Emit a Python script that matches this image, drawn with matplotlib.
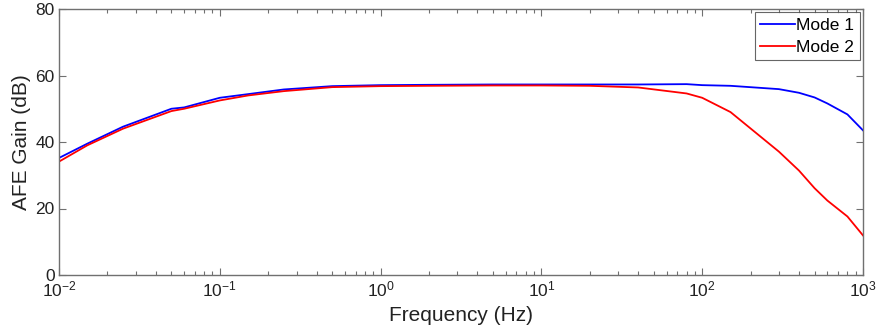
import matplotlib
matplotlib.use("Agg")
import matplotlib.pyplot as plt
from matplotlib.ticker import LogLocator, NullLocator

plt.rcParams['font.family'] = ['Liberation Sans', 'DejaVu Sans']
plt.rcParams['mathtext.fontset'] = 'custom'
plt.rcParams['mathtext.rm'] = 'Liberation Sans'
plt.rcParams['mathtext.it'] = 'Liberation Sans'
plt.rcParams['mathtext.default'] = 'regular'

freq = [0.01, 0.015, 0.025, 0.05, 0.06, 0.1, 0.15, 0.25, 0.5, 1, 2, 5, 10,
        20, 40, 80, 100, 150, 300, 400, 500, 600, 800, 1000]
mode1 = [35.2, 39.5, 44.6, 50.0, 50.4, 53.3, 54.4, 55.8, 56.8, 57.1, 57.2, 57.3,
         57.3, 57.3, 57.3, 57.4, 57.1, 56.9, 55.9, 54.8, 53.4, 51.6, 48.3, 43.5]
mode2 = [34.1, 39.0, 44.0, 49.3, 50.0, 52.5, 54.0, 55.3, 56.5, 56.8, 56.9, 57.0,
         57.0, 56.9, 56.4, 54.6, 53.3, 49.0, 37.1, 31.4, 26.1, 22.4, 17.6, 11.9]
labels = ["Mode 1", "Mode 2"]
xtick_vals = [0.01, 0.1, 1, 10, 100, 1000]
xtick_labels = [r"$10^{-2}$", r"$10^{-1}$", r"$10^{0}$", r"$10^{1}$", r"$10^{2}$", r"$10^{3}$"]
ytick_vals = [0, 20, 40, 60, 80]

fig = plt.figure(figsize=(8.76, 3.26), dpi=100)
ax = fig.add_axes([59/876, 1-275/326, 804/876, 266/326])

ax.plot(freq, mode1, color=(0, 0, 1), lw=1.3, label=labels[0])
ax.plot(freq, mode2, color=(1, 0, 0), lw=1.3, label=labels[1])

ax.set_xscale('log')
ax.set_xlim(0.01, 1000)
ax.set_ylim(0, 80)
ax.set_xticks(xtick_vals)
ax.set_xticklabels(xtick_labels)
ax.xaxis.set_minor_locator(LogLocator(base=10, subs=range(2, 10), numticks=20))
ax.set_yticks(ytick_vals)
ax.yaxis.set_minor_locator(NullLocator())

gray = '#707070'
for s in ax.spines.values():
    s.set_color(gray)
    s.set_linewidth(1.0)
ax.tick_params(which='both', direction='in', top=True, right=True, color=gray,
               labelsize=12.5, labelcolor='#222222')
ax.tick_params(which='major', length=5, width=0.8, pad=3)
ax.tick_params(which='minor', length=3, width=0.8)

ax.set_xlabel("Frequency (Hz)", fontsize=15, color='#222222', labelpad=5)
ax.set_ylabel("AFE Gain (dB)", fontsize=15, color='#222222', labelpad=3)

leg = ax.legend(loc='upper right', fontsize=12.5, frameon=True, fancybox=False,
                borderpad=0.3, handlelength=2.0, handletextpad=0.1,
                labelspacing=0.4, borderaxespad=0.2)
leg.get_frame().set_edgecolor('#404040')
leg.get_frame().set_linewidth(0.8)

fig.savefig("out.png", dpi=100)
